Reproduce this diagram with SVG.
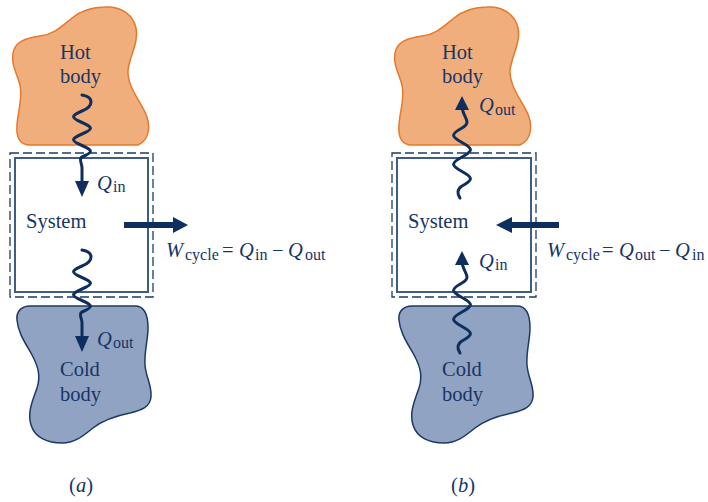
<svg xmlns="http://www.w3.org/2000/svg" xmlns:xlink="http://www.w3.org/1999/xlink" width="708" height="502" viewBox="0 0 708 502">
<style>
.t{font-family:'Liberation Serif','Times New Roman',serif;font-size:20.5px;fill:#173565}
.q{font-style:italic}
.s{font-size:16px;font-style:normal}
.hot{fill:#f0ae7d;stroke:#e8782a;stroke-width:1.5}
.cold{fill:#91a3c2;stroke:#1c3866;stroke-width:1.5}
.wave{fill:none;stroke:#0d2e5e;stroke-width:3;stroke-linecap:round}
.head{fill:#0d2e5e}
.dash{fill:none;stroke:#1d3a66;stroke-width:1.3;stroke-dasharray:9 4}
.box{fill:none;stroke:#3f5c88;stroke-width:2}
</style>
<defs>
<path id="hotShape" d="M105,7 C120,6 133,14 136,28 C139,42 130,55 128,70 C127,85 138,98 145,112 C151,125 150,140 138,145 L30,145 C20,145 16,138 17,125 C18,110 23,98 20,85 C17,73 11,65 13,53 C15,42 25,38 40,36 C55,34 62,26 72,18 C82,10 92,7 105,7 Z"/>
<path id="coldShape" d="M30,306 L135,306 C145,306 148,315 148,328 C148,340 144,352 145,365 C146,378 152,385 151,397 C150,407 142,410 130,413 C115,416 103,420 93,428 C83,436 75,443 62,443 C48,443 35,438 31,425 C27,412 33,400 37,388 C41,376 38,366 32,355 C26,344 18,333 17,320 C16,311 22,306 30,306 Z"/>
<path id="waveDown" d="M82,95 C94,97 94,106 82,111 c-11.3,4.9 -11.3,6.6 0,11.5 c11.3,4.9 11.3,6.6 0,11.5 c-11.3,4.9 -11.3,6.6 0,11.5 c11.3,4.9 11.3,6.6 0,11.5 C78.2,158.7 82,163 82,168 L82,185"/>
<path id="waveUp" d="M460,198 C457,194 457,189 462,186 c11.3,-6.15 11.3,-8.35 0,-14.5 c-11.3,-6.15 -11.3,-8.35 0,-14.5 c11.3,-6.15 11.3,-8.35 0,-14.5 c-11.3,-6.15 -11.3,-8.35 0,-14.5 C473.3,121.9 462,117 462,106"/>
</defs>

<g id="hot-a"><use xlink:href="#hotShape" class="hot"/><text class="t" x="60" y="59">Hot</text><text class="t" x="60" y="83">body</text></g>
<g id="cold-a"><use xlink:href="#coldShape" class="cold"/><text class="t" x="60" y="376">Cold</text><text class="t" x="60" y="401">body</text></g>
<g id="system-a"><rect class="dash" x="10" y="153" width="143" height="144"/><rect class="box" x="15" y="158" width="133" height="134"/><text class="t" x="26" y="228">System</text></g>

<g id="hot-b" transform="translate(382,0)"><use xlink:href="#hotShape" class="hot"/><text class="t" x="60" y="59">Hot</text><text class="t" x="60" y="83">body</text></g>
<g id="cold-b" transform="translate(382,0)"><use xlink:href="#coldShape" class="cold"/><text class="t" x="60" y="376">Cold</text><text class="t" x="60" y="401">body</text></g>
<g id="system-b"><rect class="dash" x="392" y="153" width="144" height="144"/><rect class="box" x="397" y="158" width="134" height="134"/><text class="t" x="408" y="228">System</text></g>

<g id="connectors">
<use xlink:href="#waveDown" class="wave"/>
<polygon class="head" points="75,181 89,181 82,197"/>
<g transform="translate(0,155)"><use xlink:href="#waveDown" class="wave"/><polygon class="head" points="75,181 89,181 82,197"/></g>
<rect class="head" x="124" y="222" width="50" height="6"/>
<polygon class="head" points="173,217 188,225 173,233"/>
<use xlink:href="#waveUp" class="wave"/>
<polygon class="head" points="455,110 469,110 462,96"/>
<g transform="translate(0,155)"><use xlink:href="#waveUp" class="wave"/><polygon class="head" points="455,110 469,110 462,96"/></g>
<rect class="head" x="511" y="222" width="48" height="6"/>
<polygon class="head" points="512,217 496,225 512,233"/>
</g>

<g id="labels">
<text class="t" y="190"><tspan class="q" x="97">Q</tspan><tspan class="s" x="113" dy="2">in</tspan></text>
<text class="t" y="346"><tspan class="q" x="97">Q</tspan><tspan class="s" x="113" dy="2">out</tspan></text>
<text class="t" y="257"><tspan class="q" x="166">W</tspan><tspan class="s" x="185" dy="3">cycle</tspan><tspan x="222" dy="-3">=</tspan><tspan class="q" x="239">Q</tspan><tspan class="s" x="255" dy="3">in</tspan><tspan x="272" dy="-3">−</tspan><tspan class="q" x="288">Q</tspan><tspan class="s" x="305" dy="3">out</tspan></text>
<text class="t" y="112"><tspan class="q" x="479">Q</tspan><tspan class="s" x="495" dy="3">out</tspan></text>
<text class="t" y="268"><tspan class="q" x="479">Q</tspan><tspan class="s" x="495" dy="2">in</tspan></text>
<text class="t" y="257"><tspan class="q" x="547">W</tspan><tspan class="s" x="566" dy="3">cycle</tspan><tspan x="602" dy="-3">=</tspan><tspan class="q" x="619">Q</tspan><tspan class="s" x="635" dy="3">out</tspan><tspan x="659" dy="-3">−</tspan><tspan class="q" x="675">Q</tspan><tspan class="s" x="692" dy="3">in</tspan></text>
<text class="t" x="81" y="492" text-anchor="middle">(<tspan class="q">a</tspan>)</text>
<text class="t" x="463" y="492" text-anchor="middle">(<tspan class="q">b</tspan>)</text>
</g>
</svg>
